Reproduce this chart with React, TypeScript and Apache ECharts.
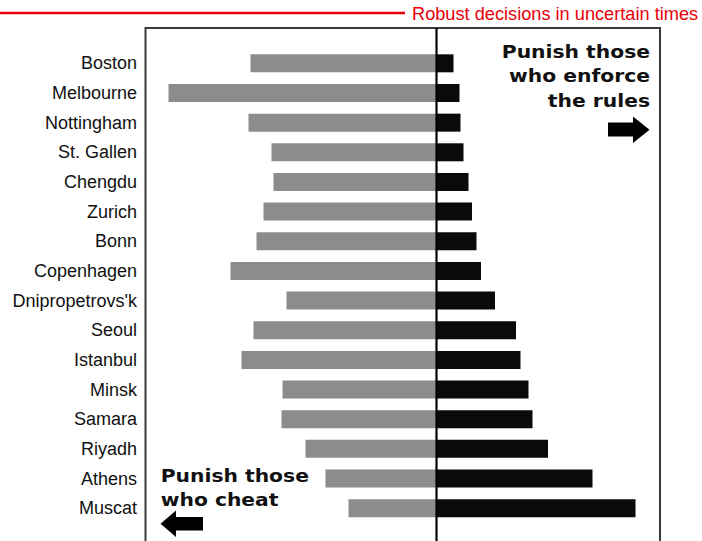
import React, { useEffect, useRef } from 'react';
import * as echarts from 'echarts';

const cities = [
  'Boston', 'Melbourne', 'Nottingham', 'St. Gallen', 'Chengdu', 'Zurich', 'Bonn', 'Copenhagen',
  "Dnipropetrovs'k", 'Seoul', 'Istanbul', 'Minsk', 'Samara', 'Riyadh', 'Athens', 'Muscat',
];
// punishment of free riders (grey, drawn to the left)
const punishCheaters = [1.86, 2.68, 1.88, 1.65, 1.63, 1.73, 1.80, 2.06, 1.50, 1.83, 1.95, 1.54, 1.55, 1.31, 1.11, 0.88];
// punishment of co-operators (black, drawn to the right)
const punishEnforcers = [0.17, 0.23, 0.24, 0.27, 0.32, 0.355, 0.40, 0.445, 0.585, 0.795, 0.84, 0.92, 0.96, 1.115, 1.56, 1.99];

const titleText = 'Robust decisions in uncertain times';
const rightNote = ['Punish those', 'who enforce', 'the rules'];
const leftNote = ['Punish those', 'who cheat'];

export default function App() {
  const ref = useRef<HTMLDivElement>(null);
  useEffect(() => {
    const chart = echarts.init(ref.current as HTMLDivElement, null, { renderer: 'svg' });
    chart.setOption({
      animation: false,
      backgroundColor: '#ffffff',
      grid: { left: 145, right: 42, top: 48.5, bottom: 18, containLabel: false },
      xAxis: { type: 'value', min: -2.915, max: 2.235, show: false },
      yAxis: {
        type: 'category',
        data: cities,
        inverse: true,
        axisLine: { show: false },
        axisTick: { show: false },
        splitLine: { show: false },
        axisLabel: {
          color: '#111',
          fontFamily: '"Liberation Sans", Arial, sans-serif',
          fontSize: 18,
          margin: 8,
        },
      },
      series: [
        {
          type: 'bar',
          name: 'Punish those who cheat',
          data: punishCheaters.map((v) => -v),
          barWidth: 18,
          barGap: '-100%',
          itemStyle: { color: '#8c8c8c' },
        },
        {
          type: 'bar',
          name: 'Punish those who enforce the rules',
          data: punishEnforcers,
          barWidth: 18,
          barGap: '-100%',
          itemStyle: { color: '#0a0a0a' },
        },
      ],
    });

    const x0 = chart.convertToPixel({ xAxisIndex: 0 }, 0) as number;
    const noteFont = {
      fill: '#111',
      fontFamily: '"DejaVu Sans", Verdana, sans-serif',
      fontWeight: 'bold',
      fontSize: 17.5,
      verticalAlign: 'middle',
    };
    const rightYs = [51.5, 76, 100.5];
    const leftYs = [475.7, 499.7];

    chart.setOption({
      graphic: [
        {
          type: 'line',
          shape: { x1: 0, y1: 13, x2: 405, y2: 13 },
          style: { stroke: '#e8000b', lineWidth: 2.5 },
        },
        {
          type: 'text',
          x: 412,
          y: 13.8,
          style: {
            text: titleText,
            fill: '#e8000b',
            fontFamily: '"Liberation Sans", Arial, sans-serif',
            fontSize: 18.2,
            verticalAlign: 'middle',
            align: 'left',
          },
        },
        {
          type: 'rect',
          shape: { x: 145.5, y: 28, width: 514.5, height: 540 },
          style: { fill: 'none', stroke: '#3a3a3a', lineWidth: 2 },
          z: 50,
        },
        {
          type: 'line',
          shape: { x1: x0, y1: 28, x2: x0, y2: 541 },
          style: { stroke: '#000', lineWidth: 2.2 },
          z: 100,
        },
        ...rightNote.map((t, i) => ({
          type: 'text',
          x: 650,
          y: rightYs[i],
          scaleX: 1.16,
          style: { ...noteFont, text: t, align: 'right' },
          z: 100,
        })),
        ...leftNote.map((t, i) => ({
          type: 'text',
          x: 160.7,
          y: leftYs[i],
          scaleX: 1.16,
          style: { ...noteFont, text: t, align: 'left' },
          z: 100,
        })),
        {
          type: 'polygon',
          shape: {
            points: [[608, 122.5], [633, 122.5], [633, 116.5], [649.5, 129.7], [633, 143], [633, 136.5], [608, 136.5]],
          },
          style: { fill: '#000' },
          z: 100,
        },
        {
          type: 'polygon',
          shape: {
            points: [[160.5, 523.7], [176, 510.5], [176, 517], [203, 517], [203, 530.5], [176, 530.5], [176, 537]],
          },
          style: { fill: '#000' },
          z: 100,
        },
      ],
    });
    return () => chart.dispose();
  }, []);
  return (
    <div
      ref={ref}
      style={{ position: 'fixed', left: 0, top: 0, width: 702, height: 541, background: '#fff' }}
    />
  );
}
